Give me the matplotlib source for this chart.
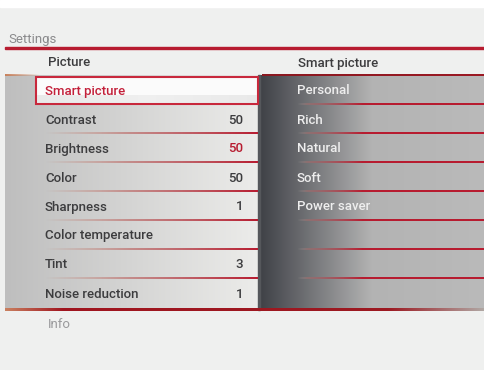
import matplotlib.pyplot as plt
import numpy as np
from matplotlib.colors import to_rgba
from matplotlib.patches import Rectangle

# Menu content
title = "Settings"
left_header = "Picture"
right_header = "Smart picture"
left_items = ["Smart picture", "Contrast", "Brightness", "Color", "Sharpness",
              "Color temperature", "Tint", "Noise reduction"]
left_values = ["", "50", "50", "50", "1", "", "3", "1"]
selected_row = 0
highlight_value_row = 2
right_items = ["Personal", "Rich", "Natural", "Soft", "Power saver", "", "", ""]
footer = "Info"

plt.rcParams['font.family'] = ['Roboto', 'DejaVu Sans']

W, H = 485, 370
fig = plt.figure(figsize=(W / 100, H / 100), dpi=100)
ax = fig.add_axes([0, 0, 1, 1])
ax.set_xlim(0, W)
ax.set_ylim(H, 0)
ax.axis('off')

RED = '#b71c30'
TXT = '#3c3c3e'
FS = 9.5


def hgrad(x0, x1, y0, y1, stops, z=1):
    # horizontal gradient; stops = [(pos, color, alpha), ...]
    xs = np.linspace(0, 1, 256)
    pos = [s[0] for s in stops]
    cols = np.array([to_rgba(s[1], s[2]) for s in stops])
    img = np.stack([np.interp(xs, pos, cols[:, i]) for i in range(4)], axis=-1)
    ax.imshow(img[None, :, :], extent=(x0, x1, y1, y0), aspect='auto',
              interpolation='bilinear', zorder=z)


# background
ax.add_patch(Rectangle((0, 0), W, H, color='#eff0ef', zorder=0))
ax.add_patch(Rectangle((0, 0), W, 7, color='white', zorder=0))

ax.text(8, 39, title, color='#8a8a8c', fontsize=9.5, va='center', ha='left')
ax.add_patch(Rectangle((5, 47), W - 5, 1.8, color=RED, zorder=2))
ax.text(48, 63, left_header, color=TXT, fontsize=FS, va='center', weight='medium')
ax.text(298, 63, right_header, color=TXT, fontsize=FS, va='center', weight='medium')

top, row_h = 75, 29
n = len(left_items)
bottom = top + n * row_h + 3

# panels
hgrad(5, 259, top, bottom, [(0, '#bebebe', 1), (1, '#ececea', 1)])
hgrad(259, W, top, bottom, [(0, '#3e4046', 1), (0.5, '#b3b3b3', 1), (1, '#bababa', 1)])
ax.add_patch(Rectangle((258.5, top), 1.2, bottom - top, color='#55575b', zorder=2))

# panel top lines
hgrad(5, 40, top - 1, top + 1, [(0, '#c9805a', 1), (1, '#c9805a', 0)], z=3)
hgrad(262, W, top - 1, top + 1, [(0, '#8a1820', 1), (1, '#9c1a24', 1)], z=3)

# rows
for i, (lab, val) in enumerate(zip(left_items, left_values)):
    yc = top + i * row_h + 16
    yl = top + (i + 1) * row_h
    if i == selected_row:
        ax.add_patch(Rectangle((36, top + 2), 222, row_h - 2, facecolor='#fbfbfb',
                               edgecolor='#c8283c', lw=1.5, zorder=4))
        hgrad(37, 257, top + 20, top + row_h - 1,
              [(0, '#d8d8d8', 0.5), (0.5, '#e4e4e4', 0.5), (1, '#d8d8d8', 0.5)], z=4)
        ax.text(45, yc, lab, color='#c3203a', fontsize=FS, va='center', zorder=5, weight='medium')
    else:
        col = RED if i == highlight_value_row else TXT
        ax.text(45, yc, lab, color=TXT, fontsize=FS, va='center', zorder=5, weight='medium')
        ax.text(243, yc, val, color=col, fontsize=FS, va='center', ha='right', zorder=5, weight='medium')
    if i < n - 1:
        hgrad(45, 258, yl - 0.8, yl + 0.8,
              [(0, '#c08070', 0), (0.4, '#c07a78', 0.8), (1, RED, 1)], z=3)
        hgrad(297, W, yl - 0.8, yl + 0.8,
              [(0, '#9a9a9a', 0), (0.05, '#a07070', 0.6), (0.35, RED, 1), (1, RED, 1)], z=3)
    ax.text(297, yc, right_items[i], color='#eeeeee', fontsize=FS, va='center', zorder=5, weight='medium')

# bottom line
hgrad(5, W, bottom - 1.2, bottom + 1.2,
      [(0, '#c98060', 1), (0.12, '#a0151f', 1), (0.8, '#9c1a22', 1), (1, '#b0a8a4', 1)], z=3)
ax.text(48, 324, footer, color='#9a9a9c', fontsize=9.5, va='center')

fig.savefig('out.png', dpi=100)
